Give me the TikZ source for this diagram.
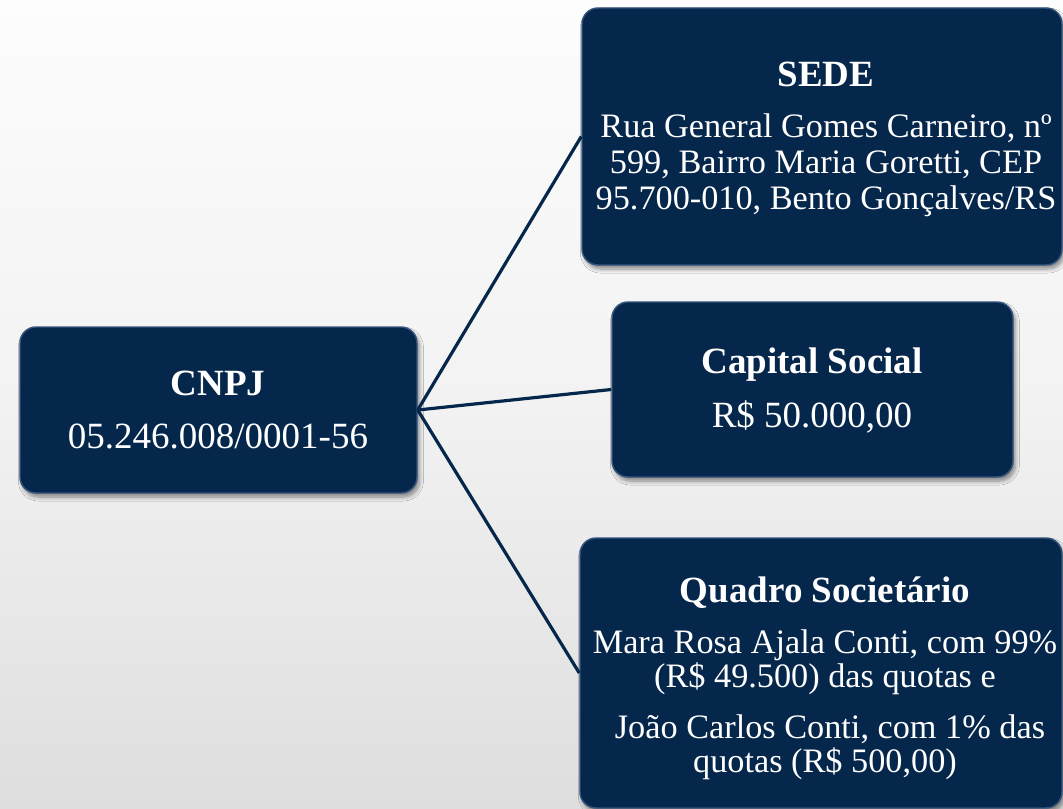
\documentclass[tikz,border=0pt]{standalone}
\usepackage{fontspec}
\setmainfont{Liberation Serif}
\usetikzlibrary{shadows.blur}
\definecolor{navy}{RGB}{5,39,75}
\definecolor{navyedge}{RGB}{52,84,124}
\definecolor{bgtop}{RGB}{253,253,253}
\definecolor{bgbottom}{RGB}{222,222,222}
\begin{document}
\begin{tikzpicture}[x=0.75pt,y=-0.75pt,
  box/.style={rectangle, rounded corners=12pt, fill=navy, draw=navyedge, line width=1.1pt,
    inner sep=0pt,
    blur shadow={shadow xshift=1.8pt, shadow yshift=-3pt, shadow blur steps=6, shadow opacity=45, shadow blur radius=3pt}},
  ttl/.style={anchor=base, text=white, inner sep=0pt, font=\fontsize{27.75}{30}\selectfont\bfseries},
  bodyL/.style={anchor=base, text=white, inner sep=0pt, font=\fontsize{27.75}{30}\selectfont},
  bodyS/.style={anchor=base, text=white, inner sep=0pt, font=\fontsize{25.7}{27}\selectfont},
  link/.style={draw=navy, line width=2.4pt}]
% background
\useasboundingbox (0,0) rectangle (1063,809);
\shade[top color=bgtop, bottom color=bgbottom, middle color={rgb,255:red,242;green,242;blue,242}] (0,0) rectangle (1063,809);
% boxes
\node[box, minimum width=297.75pt, minimum height=124.5pt] (cnpj) at (218.5,410) {};
\node[box, minimum width=360pt, minimum height=192.75pt] (sede) at (822,136.5) {};
\node[box, minimum width=300.75pt, minimum height=131.25pt] (capital) at (812.5,389.5) {};
\node[box, minimum width=361.5pt, minimum height=202.5pt] (quadro) at (821,673) {};
% connectors
\draw[link] (cnpj.east) -- (sede.west);
\draw[link] (cnpj.east) -- (capital.west);
\draw[link] (cnpj.east) -- (quadro.west);
% texts
\node[ttl] (cnpjT) at (218,395) {CNPJ};
\node[bodyL] (cnpjB) at (218,448) {05.246.008/0001-56};
\node[ttl] (capT) at (812,373) {Capital Social};
\node[bodyL] (capB) at (812,427) {R\$ 50.000,00};
\node[ttl] (sedeT) at (826,87) {SEDE};
\node[bodyS] (sede1) at (826,138) {Rua General Gomes Carneiro, nº};
\node[bodyS] (sede2) at (826,174) {599, Bairro Maria Goretti, CEP};
\node[bodyS] (sede3) at (826,210) {95.700-010, Bento Gonçalves/RS};
\node[ttl] (quadT) at (825,602) {Quadro Societário};
\node[bodyS] (quad1) at (825,653) {Mara Rosa Ajala Conti, com 99\%};
\node[bodyS] (quad2) at (825,687) {(R\$ 49.500) das quotas e};
\node[bodyS] (quad3) at (830,738) {João Carlos Conti, com 1\% das};
\node[bodyS] (quad4) at (825,772) {quotas (R\$ 500,00)};
\end{tikzpicture}
\end{document}
